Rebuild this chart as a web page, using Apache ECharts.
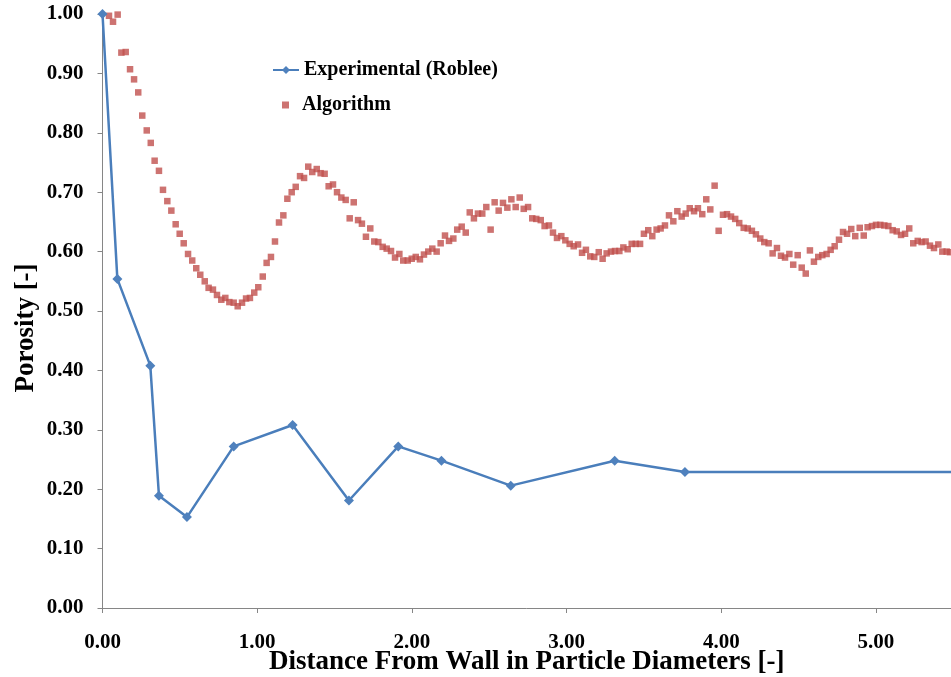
<!DOCTYPE html>
<html><head><meta charset="utf-8">
<script src="https://cdn.jsdelivr.net/npm/echarts@6/dist/echarts.min.js"></script>
<style>html,body{margin:0;padding:0;background:#fff;overflow:hidden}#c{width:951px;height:677px}</style>
</head><body><div id="c"></div>
<script>
var expX = [0, 0.096, 0.309, 0.365, 0.546, 0.848, 1.229, 1.593, 1.912, 2.191, 2.639, 3.311, 3.765, 5.6];
var expY = [1.000, 0.554, 0.408, 0.189, 0.153, 0.272, 0.308, 0.181, 0.272, 0.248, 0.206, 0.248, 0.229, 0.229];

var algX = [0.042,0.068,0.098,0.122,0.150,0.178,0.204,0.231,0.257,0.286,0.312,0.337,0.365,0.391,0.419,0.445,0.473,0.499,0.525,0.553,0.580,0.606,0.632,0.661,0.686,0.714,0.740,0.768,0.794,0.820,0.848,0.874,0.902,0.928,0.953,0.981,1.007,1.036,1.061,1.089,1.115,1.141,1.169,1.195,
1.223,1.249,1.277,1.303,1.330,1.356,1.385,1.410,1.436,1.462,1.490,1.516,1.544,1.572,1.598,1.624,1.652,1.677,1.703,1.731,1.757,1.783,1.811,1.837,1.865,1.891,1.919,1.944,1.973,1.999,2.025,2.052,2.078,2.106,2.132,2.160,2.186,2.214,2.240,2.268,2.293,2.322,2.348,2.374,2.401,2.427,2.455,2.481,2.509,2.535,2.561,2.589,2.617,2.643,2.671,2.697,2.723,2.751,2.778,2.804,2.833,2.858,2.886,2.912,2.938,2.966,2.992,3.020,3.046,3.074,3.100,3.125,3.153,3.179,3.208,
3.233,3.259,3.287,3.313,3.341,3.367,3.395,3.421,3.447,3.475,3.500,3.528,3.554,3.582,3.608,3.636,3.662,3.690,3.716,3.744,3.770,3.796,3.824,3.849,3.877,3.903,3.929,3.957,3.983,4.011,4.037,4.063,4.090,4.116,4.145,4.171,4.198,4.224,4.252,4.278,4.306,4.332,4.360,4.386,4.412,4.440,4.465,4.494,4.520,4.546,4.573,4.599,4.627,4.653,4.681,4.707,4.733,4.761,4.787,4.813,4.840,4.866,4.895,4.921,4.946,4.974,5.000,5.028,5.054,5.080,5.108,5.134,5.162,5.188,5.215,5.241,5.270,5.295,5.321,5.349,5.375,5.403,5.429,5.457,5.478];

var algY = [0.997,0.987,0.999,0.935,0.936,0.907,0.890,0.868,0.829,0.804,0.783,0.753,0.736,0.704,0.685,0.669,0.646,0.630,0.614,0.596,0.585,0.572,0.561,0.550,0.539,0.536,0.527,0.519,0.522,0.515,0.514,0.508,0.514,0.521,0.522,0.531,0.540,0.558,0.581,0.591,0.617,0.649,0.661,0.689,
0.700,0.709,0.727,0.724,0.743,0.734,0.739,0.732,0.731,0.710,0.713,0.700,0.691,0.687,0.656,0.683,0.653,0.647,0.625,0.639,0.617,0.616,0.608,0.605,0.601,0.590,0.596,0.585,0.585,0.588,0.591,0.587,0.595,0.600,0.605,0.600,0.614,0.627,0.618,0.622,0.637,0.642,0.632,0.666,0.656,0.664,0.664,0.675,0.637,0.683,0.669,0.682,0.674,0.688,0.675,0.691,0.672,0.675,0.656,0.655,0.653,0.643,0.644,0.632,0.623,0.626,0.619,0.613,0.609,0.612,0.598,0.603,0.592,0.591,0.599,
0.588,0.597,0.600,0.601,0.601,0.607,0.604,0.613,0.613,0.613,0.630,0.636,0.626,0.637,0.639,0.644,0.661,0.651,0.668,0.659,0.664,0.673,0.668,0.673,0.663,0.688,0.671,0.711,0.635,0.662,0.663,0.659,0.655,0.648,0.640,0.639,0.635,0.629,0.622,0.616,0.614,0.597,0.606,0.593,0.590,0.596,0.578,0.594,0.573,0.563,0.602,0.583,0.591,0.594,0.596,0.603,0.609,0.620,0.633,0.630,0.638,0.626,0.640,0.627,0.641,0.643,0.645,0.645,0.644,0.643,0.636,0.634,0.628,0.630,0.639,0.614,0.618,0.616,0.617,0.610,0.606,0.612,0.600,0.600,0.599];

var xTitle = 'Distance From Wall in Particle Diameters [-]';
var yTitle = 'Porosity [-]';
var expName = 'Experimental (Roblee)';
var algName = 'Algorithm';

function zip(a, b) { return a.map(function (v, i) { return [v, b[i]]; }); }

var FONT = '"Liberation Serif", "Times New Roman", serif';
var chart = echarts.init(document.getElementById('c'), null, { renderer: 'canvas' });
chart.setOption({
  backgroundColor: '#fff',
  animation: false,
  grid: { left: 102.5, right: 0, top: 14, bottom: 69, containLabel: false, outerBoundsMode: 'none' },
  legend: [
    { data: [expName], orient: 'vertical', left: 272, top: 60, padding: 0, itemWidth: 26, itemHeight: 10,
      textStyle: { fontFamily: FONT, fontWeight: 'bold', fontSize: 20, color: '#000' } },
    { data: [algName], orient: 'vertical', left: 282, top: 95, padding: 0, itemWidth: 7, itemHeight: 7,
      textStyle: { fontFamily: FONT, fontWeight: 'bold', fontSize: 20, color: '#000', padding: [0, 0, 0, 8] } }
  ],
  xAxis: {
    type: 'value', min: 0, max: 5.485, interval: 1,
    name: xTitle, nameLocation: 'middle', nameGap: 41, nameMoveOverlap: false,
    nameTextStyle: { fontFamily: FONT, fontWeight: 'bold', fontSize: 27, color: '#000' },
    axisLine: { show: true, onZero: false, lineStyle: { color: '#868686', width: 1 } },
    axisTick: { show: true, inside: false, length: 5, lineStyle: { color: '#868686' } },
    splitLine: { show: false },
    axisLabel: { margin: 24, fontFamily: FONT, fontWeight: 'bold', fontSize: 21, color: '#000',
      formatter: function (v) { return v.toFixed(2); }, showMaxLabel: false }
  },
  yAxis: {
    type: 'value', min: 0, max: 1, interval: 0.1,
    name: yTitle, nameLocation: 'middle', nameGap: 63, nameRotate: 90, nameMoveOverlap: false,
    nameTextStyle: { fontFamily: FONT, fontWeight: 'bold', fontSize: 27, color: '#000', padding: [0, 34, 0, 0] },
    axisLine: { show: true, lineStyle: { color: '#868686', width: 1 } },
    axisTick: { show: true, inside: false, length: 5, lineStyle: { color: '#868686' } },
    splitLine: { show: false },
    axisLabel: { margin: 19, fontFamily: FONT, fontWeight: 'bold', fontSize: 21, color: '#000',
      formatter: function (v) { return v.toFixed(2); } }
  },
  series: [
    { name: expName, type: 'line', data: zip(expX, expY), symbol: 'diamond', symbolSize: 10,
      lineStyle: { color: '#4A7EBB', width: 2.5 }, itemStyle: { color: '#4F81BD' }, z: 3 },
    { name: algName, type: 'scatter', data: zip(algX, algY), symbol: 'rect', symbolSize: 6.5,
      itemStyle: { color: '#C0504D' }, z: 2 }
  ]
});
</script></body></html>
